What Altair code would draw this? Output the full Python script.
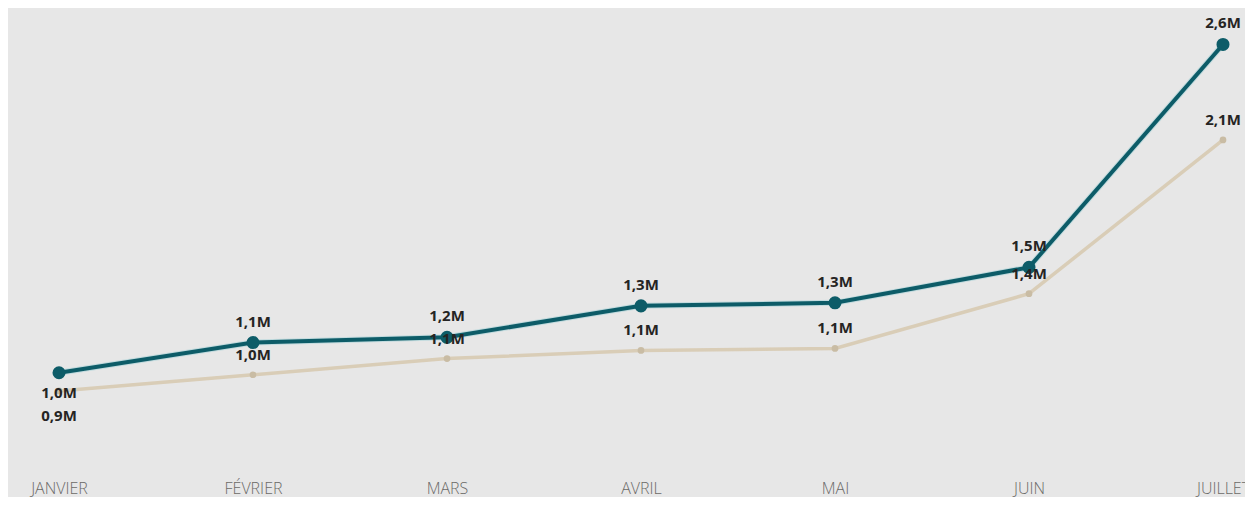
import altair as alt
import pandas as pd

months = ["JANVIER", "FÉVRIER", "MARS", "AVRIL", "MAI", "JUIN", "JUILLET"]
current = [1.00e6, 1.149e6, 1.175e6, 1.33e6, 1.345e6, 1.52e6, 2.62e6]
previous = [0.91e6, 0.99e6, 1.07e6, 1.11e6, 1.12e6, 1.39e6, 2.149e6]
series_names = ["Année en cours", "Année précédente"]

rows = []
for i, m in enumerate(months):
    rows.append({"mois": m, "serie": series_names[0], "valeur": current[i], "ordre": i})
    rows.append({"mois": m, "serie": series_names[1], "valeur": previous[i], "ordre": i})
df = pd.DataFrame(rows)

BG = "#E7E7E7"
DARK = "#0D5C68"
LIGHT = "#D9CDB7"

x = alt.X("mois:N", sort=months, scale=alt.Scale(type="point", range=[51, 1215], padding=0),
          axis=alt.Axis(title=None, labelAngle=0, domain=False, ticks=False, grid=False,
                        labelFont="Open Sans", labelFontSize=16, labelFontWeight=300,
                        labelColor="#6B6A68", labelPadding=10, labelOverlap=False))
y = alt.Y("valeur:Q", scale=alt.Scale(domain=[0.52e6, 2.80e6], zero=False, nice=False), axis=None)

base = alt.Chart(df).encode(x=x, y=y)

cur = base.transform_filter(alt.datum.serie == series_names[0])
prev = base.transform_filter(alt.datum.serie == series_names[1])

lab = "replace(format(datum.valeur / 1000000, '.1f'), '.', ',') + 'M'"

prev_line = prev.mark_line(color=LIGHT, strokeWidth=3.5)
prev_pts = prev.mark_point(filled=True, color="#C9BCA4", size=45, opacity=1)
cur_halo = cur.mark_line(color="#7FC6CF", strokeWidth=6, opacity=0.35)
cur_line = cur.mark_line(color=DARK, strokeWidth=4)
cur_pts = cur.mark_point(filled=True, color=DARK, size=170, opacity=1)

txt_style = dict(font="Open Sans", fontSize=15, fontWeight="bold", color="#252423")

prev_txt_up = prev.transform_filter(alt.datum.ordre > 0).transform_calculate(lbl=lab).mark_text(dy=-20, **txt_style).encode(text="lbl:N")
prev_txt_dn = prev.transform_filter(alt.datum.ordre == 0).transform_calculate(lbl=lab).mark_text(dy=25, **txt_style).encode(text="lbl:N")
cur_txt_up = cur.transform_filter(alt.datum.ordre > 0).transform_calculate(lbl=lab).mark_text(dy=-21, **txt_style).encode(text="lbl:N")
cur_txt_dn = cur.transform_filter(alt.datum.ordre == 0).transform_calculate(lbl=lab).mark_text(dy=20, **txt_style).encode(text="lbl:N")

chart = alt.layer(
    prev_line, prev_pts, cur_halo, cur_line, cur_pts,
    prev_txt_up, prev_txt_dn, cur_txt_up, cur_txt_dn,
).properties(
    width=1237, height=462,
    autosize=alt.AutoSizeParams(type="none"),
    padding={"left": 0, "top": 0, "right": 0, "bottom": 27},
    background=BG,
).configure_view(stroke=None, fill=BG)

chart.save("out.html", embed_options={"renderer": "svg", "actions": False})
